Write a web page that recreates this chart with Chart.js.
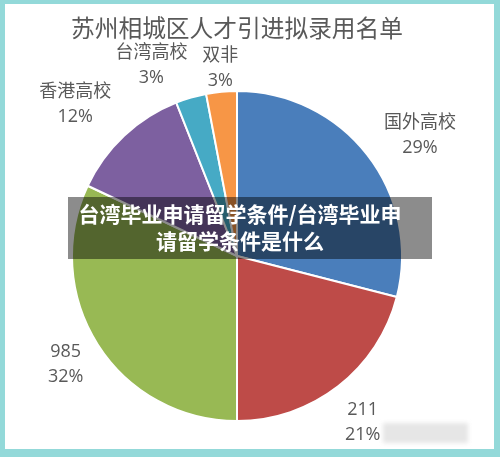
<!DOCTYPE html>
<html>
<head>
<meta charset="utf-8">
<script src="https://cdn.jsdelivr.net/npm/chart.js@4"></script>
<style>
  html, body { margin: 0; padding: 0; }
  body { width: 500px; height: 457px; background: #93d9d9; position: relative; overflow: hidden; }
  #panel { position: absolute; left: 5px; top: 4px; width: 489px; height: 445px; background: #fff; }
  #chart { position: absolute; left: 0; top: 0; }
  #banner {
    position: absolute; left: 68px; top: 197px; width: 344px; height: 59.5px;
    padding: 2.5px 20px 0 0; background: rgba(0, 0, 0, 0.45);
    color: #fff; font: bold 21px "Noto Sans CJK SC", sans-serif; line-height: 27px; text-align: center;
  }
  #mark { position: absolute; left: 383px; top: 423px; width: 85px; height: 20px; background: #e6e6e6; filter: blur(2px); }
</style>
</head>
<body>
<div id="panel"></div>
<canvas id="chart" width="500" height="457"></canvas>
<div id="banner">台湾毕业申请留学条件/台湾毕业申<br>请留学条件是什么</div>
<div id="mark"></div>
<script>
const categories = ['国外高校', '211', '985', '香港高校', '台湾高校', '双非'];
const shares = [29, 21, 32, 12, 3, 3];
const sliceColors = ['#4a7ebb', '#be4b48', '#98b954', '#7d60a0', '#46aac5', '#f79646'];

// label nudges (dx, dy) from the default spot outside each slice
const labelNudge = [[17, 8], [-3, 0], [6, -4], [-18, 1], [-27, 11], [3, 21]];

const outsideLabels = {
    id: 'outsideLabels',
    afterDatasetsDraw(chart) {
        const ctx = chart.ctx;
        const arcs = chart.getDatasetMeta(0).data;
        ctx.save();
        ctx.fillStyle = '#595959';
        ctx.textAlign = 'center';
        ctx.textBaseline = 'middle';
        ctx.font = '18px "Open Sans", "Noto Sans CJK SC", sans-serif';
        arcs.forEach((arc, i) => {
            const mid = (arc.startAngle + arc.endAngle) / 2;
            const r = arc.outerRadius + 45;
            const x = arc.x + Math.cos(mid) * r + labelNudge[i][0];
            const y = arc.y + Math.sin(mid) * r + labelNudge[i][1];
            ctx.fillText(categories[i], x, y - 12.5);
            ctx.fillText(shares[i] + '%', x, y + 12.5);
        });
        ctx.restore();
    }
};

new Chart(document.getElementById('chart'), {
    type: 'pie',
    data: {
        labels: categories,
        datasets: [{
            data: shares,
            backgroundColor: sliceColors,
            borderColor: '#ffffff',
            borderWidth: 2
        }]
    },
    options: {
        responsive: false,
        animation: false,
        layout: { padding: { left: 71, right: 97, top: 0, bottom: 35 } },
        plugins: {
            legend: { display: false },
            tooltip: { enabled: false },
            title: {
                display: true,
                text: '苏州相城区人才引进拟录用名单',
                color: '#595959',
                font: { family: '"Noto Sans CJK SC", sans-serif', size: 24, weight: 'normal' },
                padding: { top: 13.6, bottom: 47.6 }
            }
        }
    },
    plugins: [outsideLabels]
});
</script>
</body>
</html>
